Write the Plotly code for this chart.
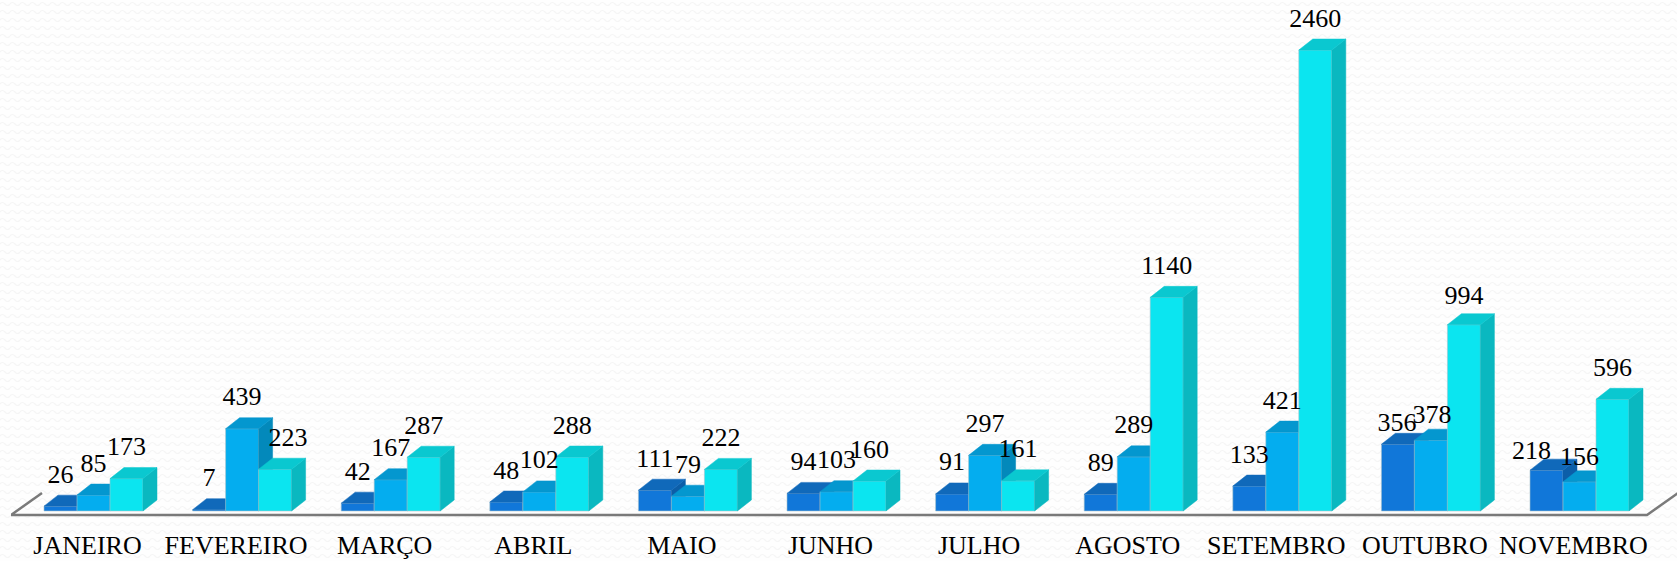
import base64
import plotly.graph_objects as go

months = ["JANEIRO", "FEVEREIRO", "MARÇO", "ABRIL", "MAIO", "JUNHO", "JULHO",
          "AGOSTO", "SETEMBRO", "OUTUBRO", "NOVEMBRO"]
series_a = [26, 7, 42, 48, 111, 94, 91, 89, 133, 356, 218]
series_b = [85, 439, 167, 102, 79, 103, 297, 289, 421, 378, 156]
series_c = [173, 223, 287, 288, 222, 160, 161, 1140, 2460, 994, 596]

# Styling and geometry (pixels per axis unit are fixed by the axis ranges)
PX_X, PX_Y = 148.6, 0.1874
BAR_W = 33 / PX_X
DEPTH_X, DEPTH_Y = 14 / PX_X, 11 / PX_Y
LABEL_GAP = 30 / PX_Y
X_RANGE = [(11 - 93.5) / PX_X, (1677 - 93.5) / PX_X]
Y_RANGE = [-8 / PX_Y, 511 / PX_Y]
FLOOR_Y = -4 / PX_Y
FLOOR_END = (1647 - 93.5) / PX_X
palette = [("#1177d9", "#1069ba", "#0c5ea8"),
           ("#04adef", "#0497cf", "#0389bb"),
           ("#0be5f0", "#0ac8d0", "#0ab8c0")]
# (series, month): label shift in pixels (right, up) where labels were moved by hand
label_nudge = {(2, 1): (13, 0), (0, 10): (-15, -12), (1, 10): (0, -7),
               (0, 9): (-1, -10), (1, 9): (1, -6), (2, 9): (0, -3)}

wave = ("<svg xmlns='http://www.w3.org/2000/svg' width='1677' height='561'>"
        "<defs><pattern id='w' width='10' height='8' patternUnits='userSpaceOnUse'>"
        "<path d='M0 4 Q2.5 1 5 4 T10 4' fill='none' stroke='#f5f5f5' stroke-width='1.2'/>"
        "</pattern></defs><rect width='1677' height='561' fill='#fefefe'/>"
        "<rect width='1677' height='561' fill='url(#w)'/></svg>")
wave_uri = "data:image/svg+xml;base64," + base64.b64encode(wave.encode()).decode()

fig = go.Figure()

for s, values in enumerate([series_a, series_b, series_c]):
    axes = {"xaxis": "x" if s == 0 else f"x{s + 1}", "yaxis": "y" if s == 0 else f"y{s + 1}"}
    front, top, side = palette[s]
    offset = (s - 1) * BAR_W
    fig.add_trace(go.Bar(x=[i + offset for i in range(len(months))], y=values, width=BAR_W,
                         marker=dict(color=front, line=dict(color="#a9c4cc", width=0.6)),
                         hoverinfo="skip", showlegend=False, **axes))
    top_x, top_y, side_x, side_y = [], [], [], []
    for i, v in enumerate(values):
        x0 = i + offset - BAR_W / 2
        x1 = i + offset + BAR_W / 2
        top_x += [x0, x1, x1 + DEPTH_X, x0 + DEPTH_X, x0, None]
        top_y += [v, v, v + DEPTH_Y, v + DEPTH_Y, v, None]
        side_x += [x1, x1 + DEPTH_X, x1 + DEPTH_X, x1, x1, None]
        side_y += [0, DEPTH_Y, v + DEPTH_Y, v, 0, None]
    for xs, ys, col in ((side_x, side_y, side), (top_x, top_y, top)):
        fig.add_trace(go.Scatter(x=xs, y=ys, mode="lines", fill="toself", fillcolor=col,
                                 line=dict(color=col, width=0.5), hoverinfo="skip",
                                 showlegend=False, **axes))

lx, ly, lt = [], [], []
for s, values in enumerate([series_a, series_b, series_c]):
    for i, v in enumerate(values):
        dx, dy = label_nudge.get((s, i), (0, 0))
        lx.append(i + (s - 1) * BAR_W + dx / PX_X)
        ly.append(v + LABEL_GAP + dy / PX_Y)
        lt.append(str(v))
fig.add_trace(go.Scatter(x=lx, y=ly, text=lt, mode="text", textposition="middle center",
                         textfont=dict(family="Liberation Serif", size=26, color="#000000"),
                         cliponaxis=False, hoverinfo="skip", showlegend=False,
                         xaxis="x3", yaxis="y3"))

# Floor: front edge plus the receding edge at each end
rise_x, rise_y = 31 / PX_X, 22 / PX_Y
floor_x = [X_RANGE[0] + rise_x, X_RANGE[0], FLOOR_END, FLOOR_END + rise_x]
floor_y = [FLOOR_Y + rise_y, FLOOR_Y, FLOOR_Y, FLOOR_Y + rise_y]
fig.add_trace(go.Scatter(x=floor_x, y=floor_y, mode="lines",
                         line=dict(color="#7a7a7a", width=2.5),
                         hoverinfo="skip", showlegend=False))

hidden = dict(visible=False, fixedrange=True)
fig.update_layout(
    width=1677, height=561, margin=dict(l=11, r=0, t=0, b=42),
    paper_bgcolor="#ffffff", plot_bgcolor="rgba(0,0,0,0)", barmode="overlay",
    images=[dict(source=wave_uri, xref="paper", yref="paper", x=-11 / 1666, y=1,
                 sizex=1677 / 1666, sizey=561 / 519, sizing="stretch",
                 xanchor="left", yanchor="top", layer="below")],
    xaxis=dict(range=X_RANGE, tickmode="array", tickvals=[i - 6 / PX_X for i in range(len(months))],
               ticktext=months, ticks="", showgrid=False, zeroline=False, showline=False,
               ticklabelstandoff=8,
               tickfont=dict(family="Liberation Serif", size=26, color="#000000")),
    yaxis=dict(range=Y_RANGE, visible=False),
    xaxis2=dict(range=X_RANGE, overlaying="x", **hidden),
    yaxis2=dict(range=Y_RANGE, overlaying="y", **hidden),
    xaxis3=dict(range=X_RANGE, overlaying="x", **hidden),
    yaxis3=dict(range=Y_RANGE, overlaying="y", **hidden),
)

fig.write_html("out.html", config={"displayModeBar": False},
               post_script="document.body.style.margin='0';document.body.style.overflow='hidden';")
